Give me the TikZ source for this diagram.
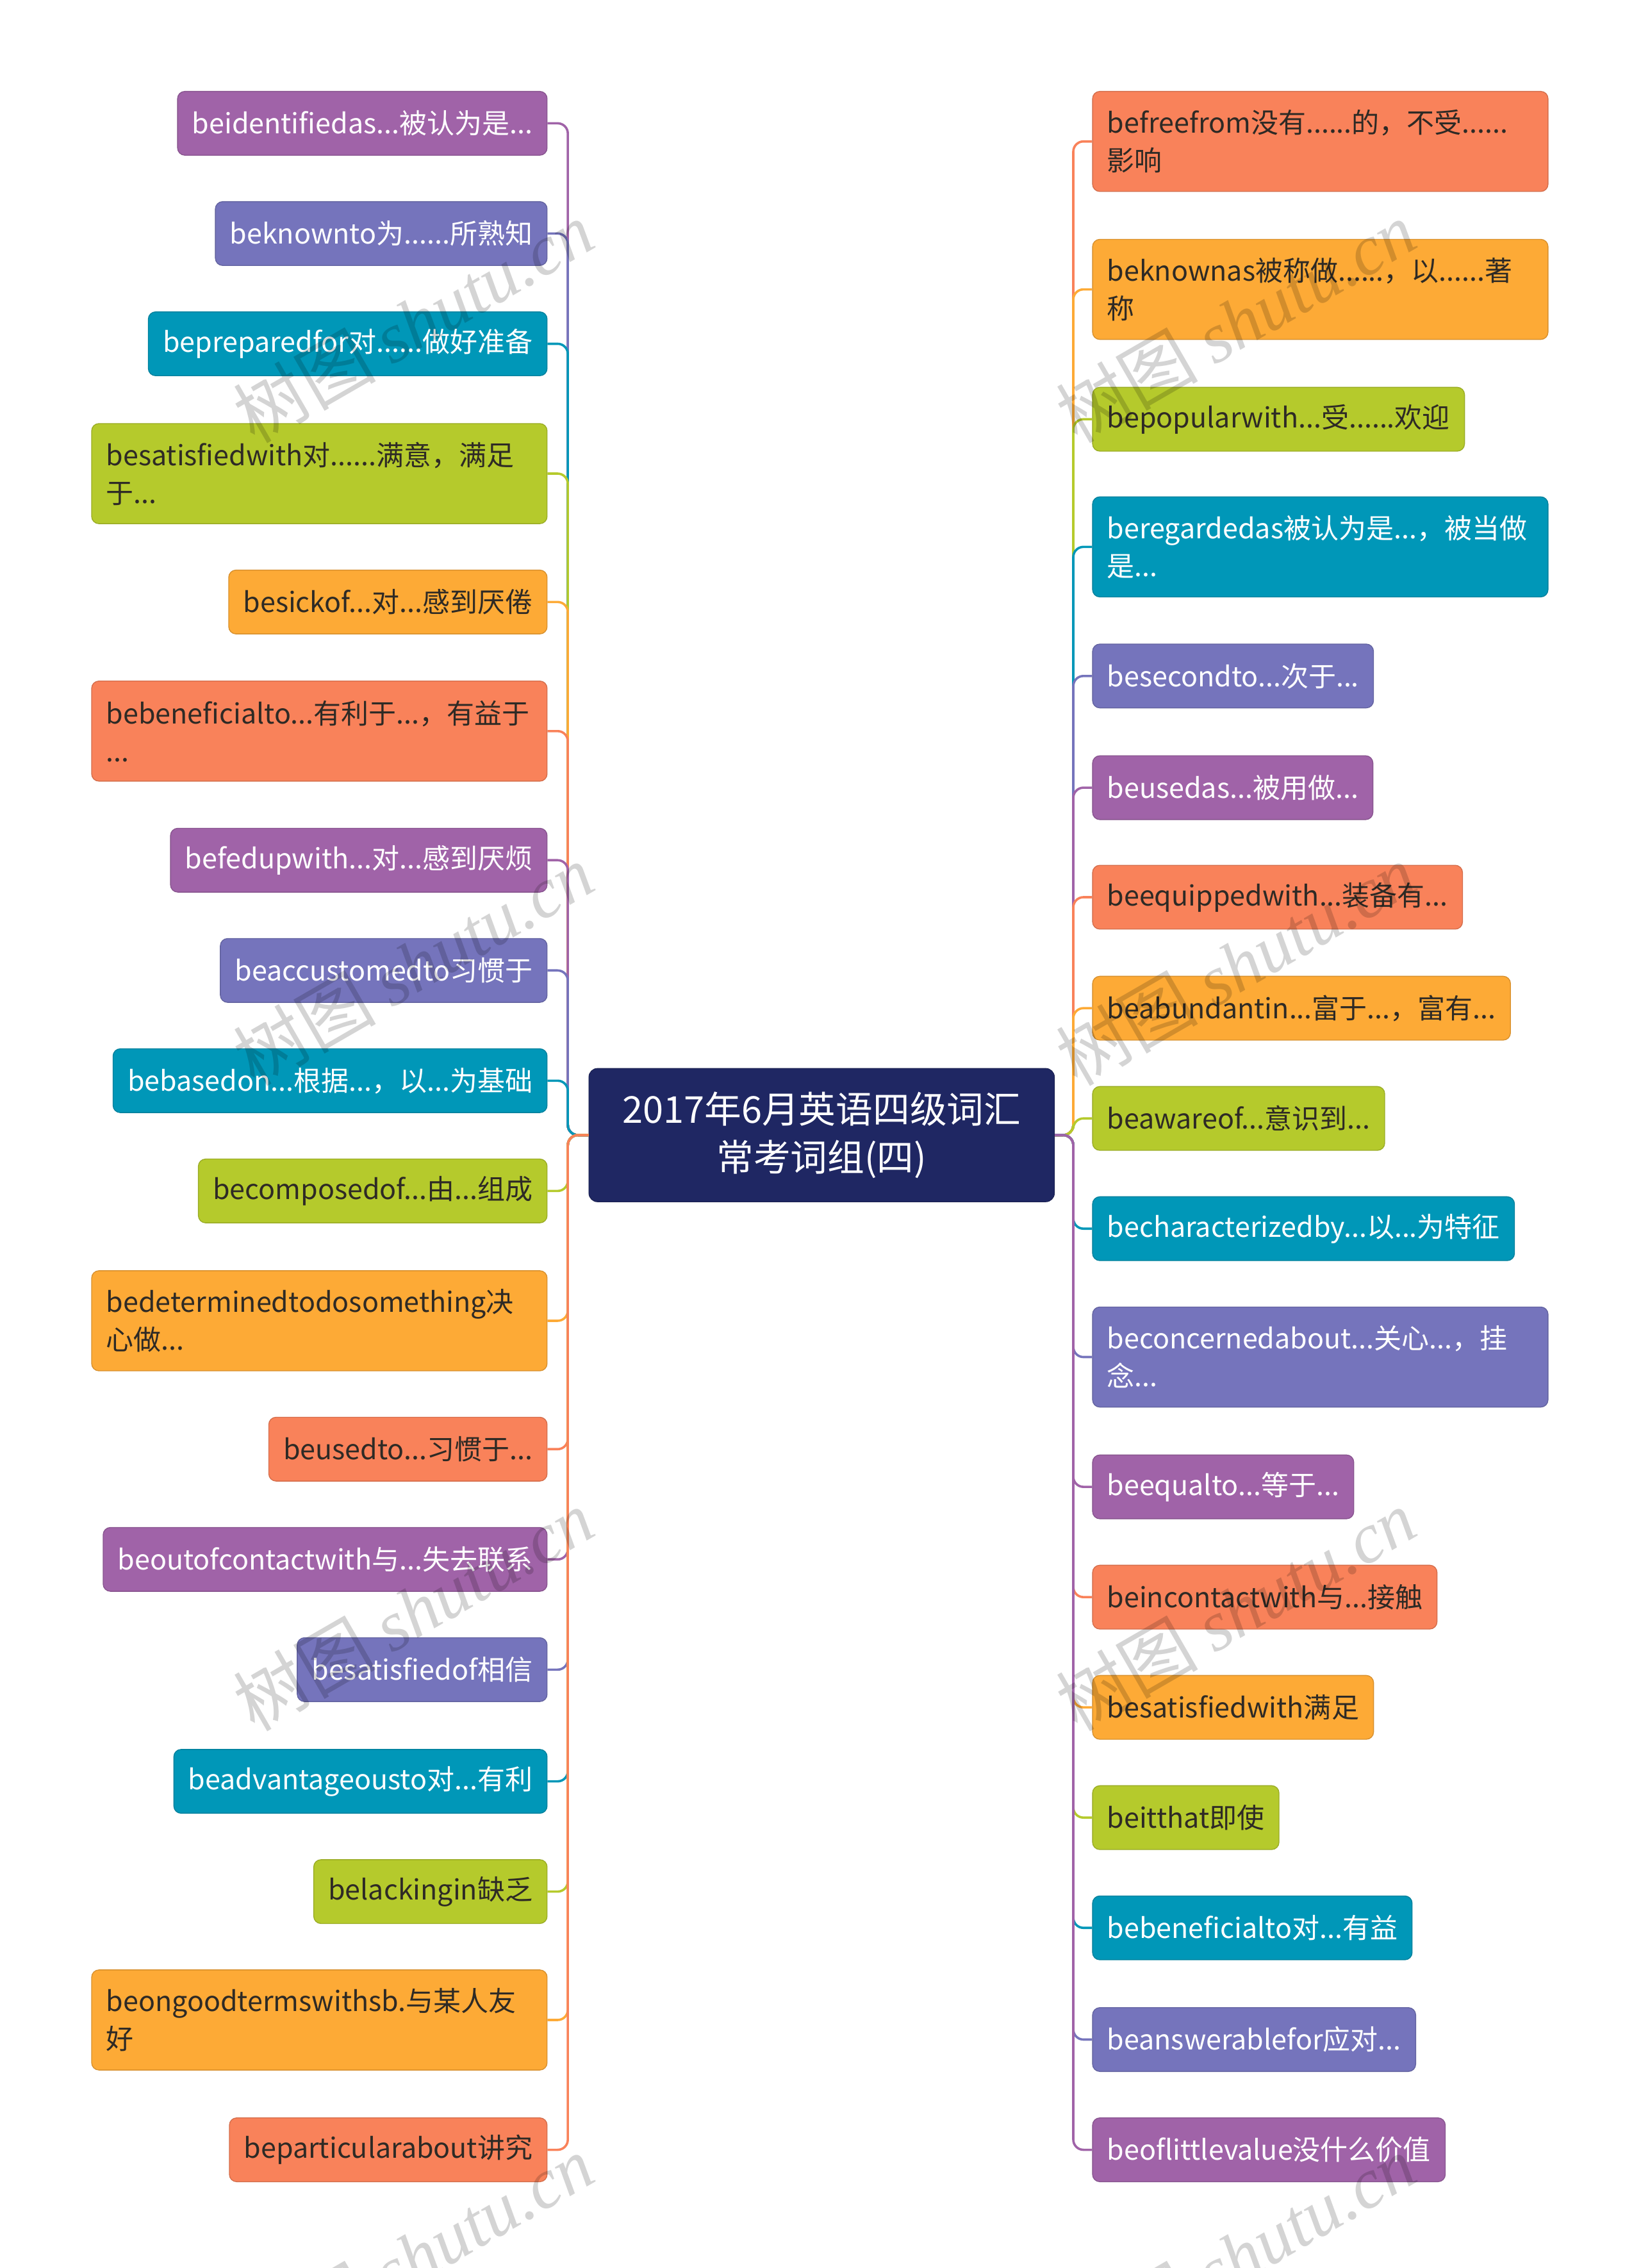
\documentclass[tikz,border=0pt]{standalone}
\usepackage{fontspec}
\setmainfont{Noto Sans CJK SC}
\newfontfamily\wmlatin{Liberation Serif}
\usetikzlibrary{positioning}
\definecolor{c_purple}{HTML}{A063A8}
\definecolor{c_lavender}{HTML}{7574BC}
\definecolor{c_teal}{HTML}{0097B8}
\definecolor{c_green}{HTML}{B5CA2C}
\definecolor{c_orange}{HTML}{FDAA36}
\definecolor{c_coral}{HTML}{F9825A}
\definecolor{c_navy}{HTML}{1F2763}
\definecolor{c_text}{HTML}{2E2A25}
\begin{document}
\begin{tikzpicture}[x=1pt,y=-1pt]
\tikzstyle{leaf_style} = [rounded corners=5pt, inner xsep=10pt, inner ysep=0pt, minimum height=44pt, line width=0.6pt, align=left, font=\fontsize{19}{26}\selectfont]
\tikzstyle{wide_style} = [text width=294pt, minimum height=69pt]
\tikzstyle{purple_style} = [leaf_style, fill=c_purple, draw=c_purple!85!black, text=white]
\tikzstyle{lavender_style} = [leaf_style, fill=c_lavender, draw=c_lavender!85!black, text=white]
\tikzstyle{teal_style} = [leaf_style, fill=c_teal, draw=c_teal!85!black, text=white]
\tikzstyle{green_style} = [leaf_style, fill=c_green, draw=c_green!85!black, text=c_text]
\tikzstyle{orange_style} = [leaf_style, fill=c_orange, draw=c_orange!85!black, text=c_text]
\tikzstyle{coral_style} = [leaf_style, fill=c_coral, draw=c_coral!85!black, text=c_text]
\tikzstyle{root_style} = [rounded corners=6pt, fill=c_navy, draw=c_navy!80!black, text=white, minimum width=321pt, minimum height=92pt, align=center, font=\fontsize{25.5}{33}\selectfont]
\tikzstyle{edge_style} = [line width=1.6pt, rounded corners=7pt]
\tikzstyle{wm_style} = [rotate=30, text=black, opacity=0.17, font=\fontsize{49}{49}\selectfont]
    \useasboundingbox (0,0) rectangle (1131,1563.5);

    \node[root_style] (root) at (566.5,782.5) {2017年6月英语四级词汇\\常考词组(四)};
    \coordinate (ltrunk) at (391.5,782.5);
    \coordinate (rtrunk) at (740,782.5);

    % left side
    \node[purple_style, anchor=east] (l1) at (377.5,85) {beidentifiedas...被认为是...};
    \node[lavender_style, anchor=east] (l2) at (377.5,161) {beknownto为......所熟知};
    \node[teal_style, anchor=east] (l3) at (377.5,237) {bepreparedfor对......做好准备};
    \node[green_style, wide_style, anchor=east] (l4) at (377.5,326.5) {besatisfiedwith对......满意，满足\\于...};
    \node[orange_style, anchor=east] (l5) at (377.5,415) {besickof...对...感到厌倦};
    \node[coral_style, wide_style, anchor=east] (l6) at (377.5,504) {bebeneficialto...有利于...，有益于\\...};
    \node[purple_style, anchor=east] (l7) at (377.5,593) {befedupwith...对...感到厌烦};
    \node[lavender_style, anchor=east] (l8) at (377.5,669) {beaccustomedto习惯于};
    \node[teal_style, anchor=east] (l9) at (377.5,745) {bebasedon...根据...，以...为基础};
    \node[green_style, anchor=east] (l10) at (377.5,821) {becomposedof...由...组成};
    \node[orange_style, wide_style, anchor=east] (l11) at (377.5,910.5) {bedeterminedtodosomething决\\心做...};
    \node[coral_style, anchor=east] (l12) at (377.5,999) {beusedto...习惯于...};
    \node[purple_style, anchor=east] (l13) at (377.5,1075) {beoutofcontactwith与...失去联系};
    \node[lavender_style, anchor=east] (l14) at (377.5,1151) {besatisfiedof相信};
    \node[teal_style, anchor=east] (l15) at (377.5,1228) {beadvantageousto对...有利};
    \node[green_style, anchor=east] (l16) at (377.5,1304) {belackingin缺乏};
    \node[orange_style, wide_style, anchor=east] (l17) at (377.5,1392.5) {beongoodtermswithsb.与某人友\\好};
    \node[coral_style, anchor=east] (l18) at (377.5,1482) {beparticularabout讲究};

    % right side
    \node[coral_style, wide_style, anchor=west] (r1) at (753,97.5) {befreefrom没有......的，不受......\\影响};
    \node[orange_style, wide_style, anchor=west] (r2) at (753,199.5) {beknownas被称做......，以......著\\称};
    \node[green_style, anchor=west] (r3) at (753,289) {bepopularwith...受......欢迎};
    \node[teal_style, wide_style, anchor=west] (r4) at (753,377) {beregardedas被认为是...，被当做\\是...};
    \node[lavender_style, anchor=west] (r5) at (753,466) {besecondto...次于...};
    \node[purple_style, anchor=west] (r6) at (753,543) {beusedas...被用做...};
    \node[coral_style, anchor=west] (r7) at (753,618.5) {beequippedwith...装备有...};
    \node[orange_style, anchor=west] (r8) at (753,695) {beabundantin...富于...，富有...};
    \node[green_style, anchor=west] (r9) at (753,771) {beawareof...意识到...};
    \node[teal_style, anchor=west] (r10) at (753,847) {becharacterizedby...以...为特征};
    \node[lavender_style, wide_style, anchor=west] (r11) at (753,935.5) {beconcernedabout...关心...，挂\\念...};
    \node[purple_style, anchor=west] (r12) at (753,1025) {beequalto...等于...};
    \node[coral_style, anchor=west] (r13) at (753,1101) {beincontactwith与...接触};
    \node[orange_style, anchor=west] (r14) at (753,1177) {besatisfiedwith满足};
    \node[green_style, anchor=west] (r15) at (753,1253) {beitthat即使};
    \node[teal_style, anchor=west] (r16) at (753,1329) {bebeneficialto对...有益};
    \node[lavender_style, anchor=west] (r17) at (753,1406) {beanswerablefor应对...};
    \node[purple_style, anchor=west] (r18) at (753,1482) {beoflittlevalue没什么价值};

    \draw[edge_style, c_purple] (root.west) -- (ltrunk) |- (l1.east);
    \draw[edge_style, c_lavender] (root.west) -- (ltrunk) |- (l2.east);
    \draw[edge_style, c_teal] (root.west) -- (ltrunk) |- (l3.east);
    \draw[edge_style, c_green] (root.west) -- (ltrunk) |- (l4.east);
    \draw[edge_style, c_orange] (root.west) -- (ltrunk) |- (l5.east);
    \draw[edge_style, c_coral] (root.west) -- (ltrunk) |- (l6.east);
    \draw[edge_style, c_purple] (root.west) -- (ltrunk) |- (l7.east);
    \draw[edge_style, c_lavender] (root.west) -- (ltrunk) |- (l8.east);
    \draw[edge_style, c_teal] (root.west) -- (ltrunk) |- (l9.east);
    \draw[edge_style, c_green] (root.west) -- (ltrunk) |- (l10.east);
    \draw[edge_style, c_orange] (root.west) -- (ltrunk) |- (l11.east);
    \draw[edge_style, c_coral] (root.west) -- (ltrunk) |- (l12.east);
    \draw[edge_style, c_purple] (root.west) -- (ltrunk) |- (l13.east);
    \draw[edge_style, c_lavender] (root.west) -- (ltrunk) |- (l14.east);
    \draw[edge_style, c_teal] (root.west) -- (ltrunk) |- (l15.east);
    \draw[edge_style, c_green] (root.west) -- (ltrunk) |- (l16.east);
    \draw[edge_style, c_orange] (root.west) -- (ltrunk) |- (l17.east);
    \draw[edge_style, c_coral] (root.west) -- (ltrunk) |- (l18.east);

    \draw[edge_style, c_coral] (root.east) -- (rtrunk) |- (r1.west);
    \draw[edge_style, c_orange] (root.east) -- (rtrunk) |- (r2.west);
    \draw[edge_style, c_green] (root.east) -- (rtrunk) |- (r3.west);
    \draw[edge_style, c_teal] (root.east) -- (rtrunk) |- (r4.west);
    \draw[edge_style, c_lavender] (root.east) -- (rtrunk) |- (r5.west);
    \draw[edge_style, c_purple] (root.east) -- (rtrunk) |- (r6.west);
    \draw[edge_style, c_coral] (root.east) -- (rtrunk) |- (r7.west);
    \draw[edge_style, c_orange] (root.east) -- (rtrunk) |- (r8.west);
    \draw[edge_style, c_green] (root.east) -- (rtrunk) |- (r9.west);
    \draw[edge_style, c_teal] (root.east) -- (rtrunk) |- (r10.west);
    \draw[edge_style, c_lavender] (root.east) -- (rtrunk) |- (r11.west);
    \draw[edge_style, c_purple] (root.east) -- (rtrunk) |- (r12.west);
    \draw[edge_style, c_coral] (root.east) -- (rtrunk) |- (r13.west);
    \draw[edge_style, c_orange] (root.east) -- (rtrunk) |- (r14.west);
    \draw[edge_style, c_green] (root.east) -- (rtrunk) |- (r15.west);
    \draw[edge_style, c_teal] (root.east) -- (rtrunk) |- (r16.west);
    \draw[edge_style, c_lavender] (root.east) -- (rtrunk) |- (r17.west);
    \draw[edge_style, c_purple] (root.east) -- (rtrunk) |- (r18.west);

    % watermarks
    \node[wm_style] (wm1) at (285,222) {树图 {\wmlatin\itshape shutu.cn}};
    \node[wm_style] (wm2) at (285,665) {树图 {\wmlatin\itshape shutu.cn}};
    \node[wm_style] (wm3) at (285,1110) {树图 {\wmlatin\itshape shutu.cn}};
    \node[wm_style] (wm4) at (285,1555) {树图 {\wmlatin\itshape shutu.cn}};
    \node[wm_style] (wm5) at (852,222) {树图 {\wmlatin\itshape shutu.cn}};
    \node[wm_style] (wm6) at (852,665) {树图 {\wmlatin\itshape shutu.cn}};
    \node[wm_style] (wm7) at (852,1110) {树图 {\wmlatin\itshape shutu.cn}};
    \node[wm_style] (wm8) at (852,1555) {树图 {\wmlatin\itshape shutu.cn}};
\end{tikzpicture}
\end{document}
